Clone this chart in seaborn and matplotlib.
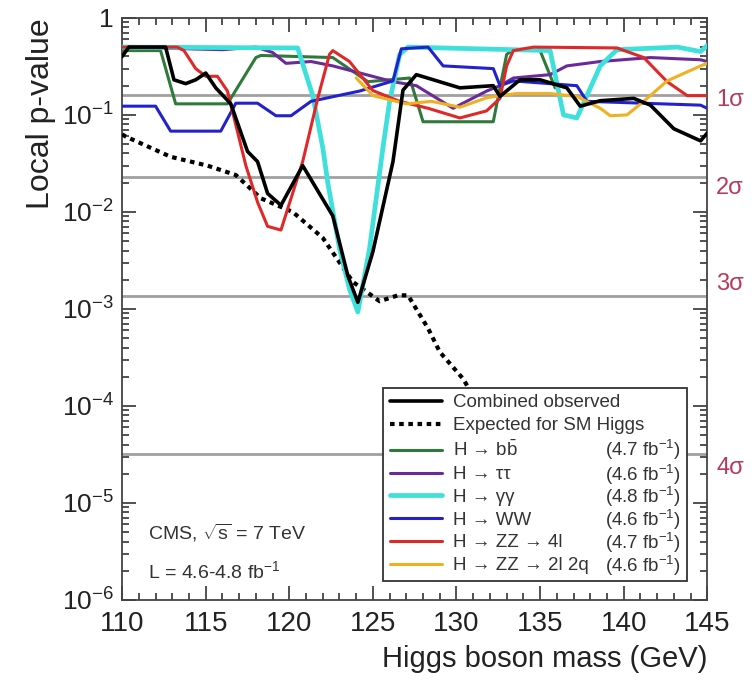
import numpy as np
import pandas as pd
import seaborn as sns
import matplotlib
matplotlib.use('Agg')
import matplotlib.pyplot as plt
from matplotlib.ticker import FixedLocator, MultipleLocator, FuncFormatter, LogLocator, NullFormatter
import matplotlib.transforms as mtransforms

# dados (massa em GeV, p-value local)
m_obs = [110, 110.4, 112.6, 113.1, 113.8, 114.4, 115.0, 115.6, 116.5, 117.5, 118.1, 118.7,
         119.5, 120.8, 122.6, 123.5, 124.1, 125.0, 126.2, 126.8, 127.6, 130.2, 132.2, 132.6,
         133.8, 135.0, 136.6, 137.4, 138.6, 140.6, 141.6, 143.0, 144.6, 145.0]
p_obs = [0.40, 0.50, 0.50, 0.23, 0.21, 0.23, 0.27, 0.19, 0.13, 0.042, 0.033, 0.0155,
         0.0117, 0.030, 0.0091, 0.0022, 0.00117, 0.0039, 0.033, 0.18, 0.26, 0.19, 0.20, 0.155,
         0.23, 0.23, 0.19, 0.123, 0.14, 0.148, 0.126, 0.072, 0.054, 0.065]

m_exp = [110, 110.2, 112.9, 115.1, 116.8, 118.3, 120.2, 122.0, 123.8, 125.4, 126.5, 127.1,
         128.3, 129.0, 130.4, 131.0]
p_exp = [0.063, 0.060, 0.037, 0.030, 0.024, 0.0138, 0.0100, 0.0054, 0.0019, 0.0012, 0.00138,
         0.00138, 0.00063, 0.00036, 0.00019, 0.000126]

m_bb = [110, 112.3, 113.2, 116.3, 118.0, 118.3, 122.6, 124.7, 127.2, 128.0, 132.2, 132.6,
        133.0, 133.4, 135.0, 135.9]
p_bb = [0.46, 0.46, 0.13, 0.13, 0.39, 0.41, 0.39, 0.22, 0.24, 0.085, 0.085, 0.19,
        0.42, 0.47, 0.46, 0.19]

m_tt = [110, 116.0, 118.0, 119.0, 119.8, 121.3, 122.6, 126.2, 127.6, 129.8, 131.8, 132.6,
        133.4, 135.6, 136.6, 138.6, 141.6, 144.6, 145]
p_tt = [0.50, 0.47, 0.50, 0.44, 0.34, 0.355, 0.32, 0.22, 0.20, 0.117, 0.176, 0.20,
        0.24, 0.26, 0.32, 0.355, 0.39, 0.37, 0.355]

m_gg = [110, 120.5, 121.4, 122.0, 122.3, 123.0, 123.6, 124.1, 124.8, 125.6, 126.0, 126.6,
        127.1, 135.6, 136.4, 137.2, 137.8, 138.6, 139.6, 143.2, 144.6, 145]
p_gg = [0.50, 0.49, 0.158, 0.046, 0.020, 0.0042, 0.0016, 0.00093, 0.0042, 0.046, 0.138, 0.42,
        0.50, 0.46, 0.10, 0.093, 0.158, 0.32, 0.47, 0.50, 0.45, 0.52]

m_ww = [110, 112.0, 112.9, 115.9, 116.8, 118.1, 119.2, 120.1, 121.3, 124.2, 126.2, 126.7,
        128.3, 129.2, 132.2, 132.6, 133.4, 137.2, 137.8, 144.6, 145]
p_ww = [0.123, 0.123, 0.068, 0.068, 0.132, 0.132, 0.098, 0.098, 0.138, 0.176, 0.224, 0.48,
        0.50, 0.32, 0.30, 0.20, 0.224, 0.20, 0.138, 0.126, 0.117]

m_4l = [110, 113.3, 113.7, 114.4, 115.0, 115.7, 116.3, 117.4, 118.1, 118.7, 119.5, 120.8,
        121.7, 122.4, 122.6, 123.6, 125.0, 126.6, 128.3, 130.2, 131.8, 132.6, 133.0, 133.4,
        134.6, 139.6, 141.2, 142.6, 143.8, 145]
p_4l = [0.50, 0.50, 0.46, 0.30, 0.25, 0.25, 0.176, 0.030, 0.0126, 0.0071, 0.0065, 0.033,
        0.148, 0.42, 0.46, 0.355, 0.178, 0.138, 0.117, 0.093, 0.11, 0.148, 0.32, 0.46,
        0.50, 0.49, 0.39, 0.22, 0.158, 0.158]

m_2l2q = [124.0, 125.0, 127.0, 128.5, 130.2, 131.8, 132.6, 133.6, 135.6, 137.2, 138.6, 139.2,
          140.2, 141.2, 142.6, 144.6, 145]
p_2l2q = [0.24, 0.158, 0.13, 0.138, 0.12, 0.15, 0.158, 0.166, 0.166, 0.155, 0.117, 0.098,
          0.10, 0.138, 0.224, 0.32, 0.34]

sigma_p = [0.1587, 0.02275, 0.00135, 3.17e-5]
sigma_lab = ['1σ', '2σ', '3σ', '4σ']
sigma_dy = [-3, -8, 9, -10]  # deslocamento vertical dos rotulos (pt)

series = [
    ('Combined observed', m_obs, p_obs, 'black', '-', 2.6, None),
    ('Expected for SM Higgs', m_exp, p_exp, 'black', (0, (1.1, 1.1)), 3.0, None),
    ('H → b$\\bar{\\rm b}$', m_bb, p_bb, '#2f7a3a', '-', 2.2, '(4.7 fb$^{-1}$)'),
    ('H → ττ', m_tt, p_tt, '#6b2a9a', '-', 2.2, '(4.6 fb$^{-1}$)'),
    ('H → γγ', m_gg, p_gg, '#3fe0dc', '-', 3.4, '(4.8 fb$^{-1}$)'),
    ('H → WW', m_ww, p_ww, '#2222cc', '-', 2.2, '(4.6 fb$^{-1}$)'),
    ('H → ZZ → 4l', m_4l, p_4l, '#e02828', '-', 2.2, '(4.7 fb$^{-1}$)'),
    ('H → ZZ → 2l 2q', m_2l2q, p_2l2q, '#f0b020', '-', 2.2, '(4.6 fb$^{-1}$)'),
]

sns.set_style('ticks')
plt.rcParams['font.family'] = ['Liberation Sans', 'DejaVu Sans']
plt.rcParams['mathtext.fontset'] = 'custom'
plt.rcParams['mathtext.rm'] = 'Liberation Sans'
plt.rcParams['mathtext.it'] = 'Liberation Sans:italic'
plt.rcParams['mathtext.default'] = 'regular'

fig = plt.figure(figsize=(7.54, 6.88), dpi=100)
ax = fig.add_axes([0.162, 0.128, 0.776, 0.846])

# linhas de significancia
for p in sigma_p:
    ax.axhline(p, color='#a0a0a0', lw=2, zorder=1)

# ordem de desenho: gama-gama por baixo, combinado por cima
draw_order = [4, 2, 3, 5, 6, 7, 1, 0]
for i in draw_order:
    lab, mm, pp, col, ls, lw, lumi = series[i]
    df = pd.DataFrame({'m': mm, 'p': pp})
    sns.lineplot(data=df, x='m', y='p', ax=ax, color=col, lw=lw, linestyle=ls,
                 label=lab, zorder=3 + i * 0.1 if i > 0 else 5)

ax.set_yscale('log')
ax.set_xlim(110, 145)
ax.set_ylim(1e-6, 1)

ax.xaxis.set_major_locator(MultipleLocator(5))
ax.xaxis.set_minor_locator(MultipleLocator(1))
ax.yaxis.set_major_locator(FixedLocator([10.0 ** -k for k in range(0, 7)]))
ax.yaxis.set_minor_locator(LogLocator(base=10, subs=np.arange(2, 10), numticks=20))
ax.yaxis.set_minor_formatter(NullFormatter())


def yfmt(v, pos):
    k = int(round(np.log10(v)))
    if k == 0:
        return '1'
    return '$10^{%d}$' % k


ax.yaxis.set_major_formatter(FuncFormatter(yfmt))
ax.tick_params(which='both', direction='in', top=True, right=True, width=1.2,
               colors='#333333', labelcolor='#222222')
ax.tick_params(axis='x', labelsize=20, pad=8)
ax.tick_params(axis='y', labelsize=19, pad=6)
ax.tick_params(which='major', length=10)
ax.tick_params(which='minor', length=5)
for s in ax.spines.values():
    s.set_color('#444444')
    s.set_linewidth(1.3)

ax.set_xlabel('Higgs boson mass (GeV)', fontsize=21, color='#222222', loc='right', labelpad=6)
ax.set_ylabel('Local p-value', fontsize=23, color='#222222', loc='top', labelpad=4)

# rotulos de sigma a direita
trans = mtransforms.blended_transform_factory(ax.transAxes, ax.transData)
for p, t, dy in zip(sigma_p, sigma_lab, sigma_dy):
    ax.annotate(t, xy=(1.015, p), xycoords=trans, xytext=(0, dy), textcoords='offset points',
                ha='left', va='center', fontsize=17, color='#b83a5a', annotation_clip=False)

ax.text(0.045, 0.116, 'CMS, $\\sqrt{s}$ = 7 TeV', transform=ax.transAxes, fontsize=14,
        va='center', ha='left', color='#333333')
ax.text(0.045, 0.05, 'L = 4.6-4.8 fb$^{-1}$', transform=ax.transAxes, fontsize=14,
        va='center', ha='left', color='#333333')

# legenda na ordem original
h, l = ax.get_legend_handles_labels()
order = [l.index(s[0]) for s in series]
leg = ax.legend([h[k] for k in order], [l[k] for k in order], loc='lower left',
                bbox_to_anchor=(0.43, 0.017, 0.552, 0.34), mode='expand',
                fontsize=13.5, frameon=True, fancybox=False,
                edgecolor='#333333', framealpha=1, handlelength=2.8, labelspacing=0.3,
                borderpad=0.35, handletextpad=0.6)
leg.get_frame().set_linewidth(1.3)
leg.set_zorder(10)

fig.canvas.draw()
inv = fig.transFigure.inverted()
leg_bbox = leg.get_frame().get_window_extent()
x_right = leg_bbox.x1 - 6
texts = leg.get_texts()
for t, s in zip(texts, series):
    t.set_color('#333333')
    if s[6] is None:
        continue
    bb = t.get_window_extent()
    yc = (bb.y0 + bb.y1) / 2
    fx, fy = inv.transform((x_right, yc))
    fig.text(fx, fy, s[6], ha='right', va='center', fontsize=13.5, color='#333333', zorder=11)

fig.savefig('out.png', dpi=100)
